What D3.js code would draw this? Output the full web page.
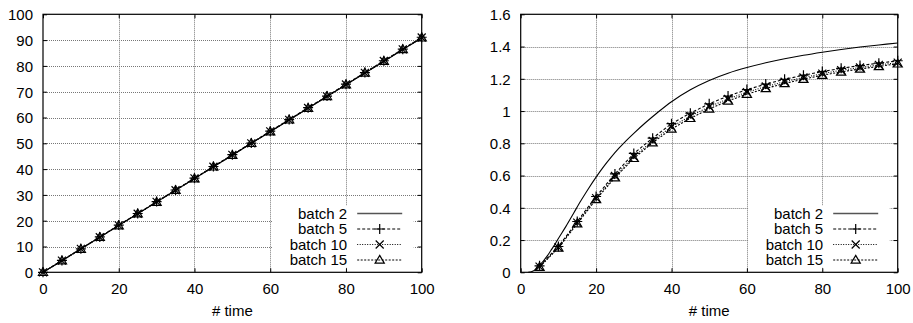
<!DOCTYPE html>
<html>
<head>
<meta charset="utf-8">
<script src="https://cdn.jsdelivr.net/npm/d3@7"></script>
<style>
  html, body { margin: 0; padding: 0; background: #fff; }
  svg { display: block; }
  text { font-family: "Liberation Sans", Arial, sans-serif; font-size: 15px; fill: #000; }
</style>
</head>
<body>
<svg id="chart" width="913" height="323"></svg>
<script>
// ---------- data ----------
const seriesNames = ["batch 2", "batch 5", "batch 10", "batch 15"];

// left panel (x = 0..100 step 5)
const leftX = [0,5,10,15,20,25,30,35,40,45,50,55,60,65,70,75,80,85,90,95,100];
const leftBatch2  = [0,4.5,9.1,13.6,18.2,22.7,27.2,31.8,36.3,40.9,45.4,50.0,54.5,59.0,63.6,68.1,72.7,77.2,81.7,86.3,90.8];
const leftBatch5  = [0,4.6,9.1,13.7,18.3,22.8,27.4,31.9,36.5,41.0,45.6,50.1,54.7,59.2,63.8,68.3,72.9,77.4,82.0,86.5,91.1];
const leftBatch10 = [0,4.5,9.1,13.6,18.2,22.7,27.3,31.8,36.4,40.9,45.5,50.0,54.6,59.1,63.7,68.2,72.8,77.3,81.9,86.4,91.0];
const leftBatch15 = [0,4.5,9.0,13.6,18.1,22.7,27.2,31.8,36.3,40.9,45.4,50.0,54.5,59.1,63.6,68.2,72.7,77.3,81.8,86.4,90.9];

// right panel
const rightBatch2X = [2,3,4,5,6,7,8,9,10,12,14,16,18,20,22,24,26,28,30,33,36,40,45,50,55,60,65,70,75,80,85,90,95,100];
const rightBatch2Y = [0,0.005,0.02,0.045,0.07,0.1,0.135,0.17,0.21,0.285,0.365,0.445,0.52,0.59,0.655,0.714,0.768,0.817,0.862,0.926,0.985,1.058,1.132,1.19,1.235,1.27,1.299,1.324,1.346,1.365,1.382,1.397,1.41,1.422];
const rightX = [5,10,15,20,25,30,35,40,45,50,55,60,65,70,75,80,85,90,95,100];
const rightBatch5  = [0.04,0.16,0.315,0.47,0.61,0.737,0.832,0.922,0.987,1.045,1.093,1.133,1.167,1.197,1.222,1.245,1.265,1.282,1.297,1.312];
const rightBatch10 = [0.035,0.155,0.308,0.46,0.597,0.718,0.815,0.903,0.968,1.027,1.075,1.117,1.152,1.182,1.208,1.232,1.253,1.27,1.286,1.3];
const rightBatch15 = [0.032,0.151,0.302,0.452,0.587,0.707,0.804,0.889,0.955,1.013,1.063,1.105,1.14,1.171,1.198,1.222,1.243,1.261,1.277,1.293];

// ticks
const xTicks = [0,20,40,60,80,100];
const xTickLabels = ["0","20","40","60","80","100"];
const leftYTicks = [0,10,20,30,40,50,60,70,80,90,100];
const leftYTickLabels = ["0","10","20","30","40","50","60","70","80","90","100"];
const rightYTicks = [0,0.2,0.4,0.6,0.8,1,1.2,1.4,1.6];
const rightYTickLabels = ["0","0.2","0.4","0.6","0.8","1","1.2","1.4","1.6"];
const xLabel = "# time";

// ---------- drawing ----------
const svg = d3.select("#chart");

const styles = [
  { dash: null,  marker: null },
  { dash: "3,2", marker: "plus" },
  { dash: "1,1.5", marker: "cross" },
  { dash: "2,1.5", marker: "triangle" }
];

function drawMarker(g, type, x, y) {
  if (type === "plus") {
    g.append("path").attr("d", `M${x-5},${y}H${x+5}M${x},${y-5}V${y+5}`)
      .attr("stroke", "#000").attr("stroke-width", 1.2).attr("fill", "none");
  } else if (type === "cross") {
    g.append("path").attr("d", `M${x-4},${y-4}L${x+4},${y+4}M${x-4},${y+4}L${x+4},${y-4}`)
      .attr("stroke", "#000").attr("stroke-width", 1.2).attr("fill", "none");
  } else if (type === "triangle") {
    g.append("path").attr("d", `M${x},${y-4.6}L${x+4.6},${y+3.2}L${x-4.6},${y+3.2}Z`)
      .attr("stroke", "#000").attr("stroke-width", 1.2).attr("fill", "none");
  }
}

function panel(opts) {
  const { x0, x1, y0, y1, yDomain, yTicks, yLabels, series } = opts;
  const xs = d3.scaleLinear().domain([0, 100]).range([x0, x1]);
  const ys = d3.scaleLinear().domain(yDomain).range([y1, y0]);
  const g = svg.append("g");

  // grid
  const grid = g.append("g").attr("stroke", "#777").attr("stroke-width", 1)
    .attr("stroke-dasharray", "1,1").attr("fill", "none");
  xTicks.slice(1, -1).forEach(t => {
    grid.append("line").attr("x1", Math.round(xs(t)) + 0.5).attr("x2", Math.round(xs(t)) + 0.5)
      .attr("y1", y0).attr("y2", y1);
  });
  yTicks.slice(1, -1).forEach(t => {
    grid.append("line").attr("y1", Math.round(ys(t)) + 0.5).attr("y2", Math.round(ys(t)) + 0.5)
      .attr("x1", x0).attr("x2", x1);
  });

  // axes with d3 axis generators (inward ticks, mirrored)
  const fmtX = d => xTickLabels[xTicks.indexOf(d)];
  const fmtY = d => yLabels[yTicks.indexOf(d)];
  const axB = g.append("g").attr("transform", `translate(0,${y1})`)
    .call(d3.axisBottom(xs).tickValues(xTicks).tickFormat(fmtX).tickSizeInner(-4).tickSizeOuter(0).tickPadding(10));
  const axT = g.append("g").attr("transform", `translate(0,${y0})`)
    .call(d3.axisTop(xs).tickValues(xTicks).tickFormat("").tickSizeInner(-4).tickSizeOuter(0));
  const axL = g.append("g").attr("transform", `translate(${x0},0)`)
    .call(d3.axisLeft(ys).tickValues(yTicks).tickFormat(fmtY).tickSizeInner(-4).tickSizeOuter(0).tickPadding(10));
  const axR = g.append("g").attr("transform", `translate(${x1},0)`)
    .call(d3.axisRight(ys).tickValues(yTicks).tickFormat("").tickSizeInner(-4).tickSizeOuter(0));
  [axB, axT, axL, axR].forEach(a => {
    a.select(".domain").remove();
    a.selectAll("line").attr("stroke", "#000");
    a.selectAll("text").attr("fill", "#000")
      .style("font-family", '"Liberation Sans", Arial, sans-serif').style("font-size", "15px");
  });
  axB.selectAll("text").attr("dy", null).attr("y", 21.5);
  axL.selectAll("text").attr("dy", "0.36em");

  // series
  const layer = g.append("g");
  series.forEach((s, i) => {
    const st = styles[i];
    const line = d3.line().x(d => xs(d[0])).y(d => ys(d[1]))
      .curve(s.smooth ? d3.curveCatmullRom.alpha(0.5) : d3.curveLinear);
    const pts = s.x.map((xv, k) => [xv, s.y[k]]);
    layer.append("path").datum(pts).attr("d", line)
      .attr("fill", "none").attr("stroke", "#000").attr("stroke-width", 1.1)
      .attr("stroke-dasharray", st.dash);
    if (st.marker) pts.forEach(p => drawMarker(layer, st.marker, xs(p[0]), ys(p[1])));
  });

  // border
  g.append("rect").attr("x", x0).attr("y", y0).attr("width", x1 - x0).attr("height", y1 - y0)
    .attr("fill", "none").attr("stroke", "#000").attr("stroke-width", 1.2);

  // legend (opaque key)
  const rowY = [213.5, 229, 244.5, 260];
  const textRight = x1 - 74.5;
  const lineX0 = x1 - 64.5, lineX1 = x1 - 19.5;
  const boxX0 = textRight - 75;
  const key = g.append("g");
  key.append("rect").attr("x", boxX0).attr("y", 205.5)
    .attr("width", (x1 - 8) - boxX0).attr("height", 62).attr("fill", "#fff");
  seriesNames.forEach((name, i) => {
    const st = styles[i];
    key.append("text").attr("x", textRight).attr("y", rowY[i]).attr("dy", "0.36em")
      .attr("text-anchor", "end").text(name);
    key.append("line").attr("x1", lineX0).attr("x2", lineX1).attr("y1", rowY[i]).attr("y2", rowY[i])
      .attr("stroke", i === 0 ? "#555" : "#000").attr("stroke-width", i === 0 ? 1.6 : 1)
      .attr("stroke-dasharray", st.dash);
    if (st.marker) drawMarker(key, st.marker, (lineX0 + lineX1) / 2, rowY[i]);
  });

  // x label
  g.append("text").attr("x", (x0 + x1) / 2).attr("y", 316).attr("text-anchor", "middle").text(xLabel);
}

panel({
  x0: 43, x1: 421.7, y0: 14.3, y1: 272.3,
  yDomain: [0, 100], yTicks: leftYTicks, yLabels: leftYTickLabels,
  series: [
    { x: leftX, y: leftBatch2 },
    { x: leftX, y: leftBatch5 },
    { x: leftX, y: leftBatch10 },
    { x: leftX, y: leftBatch15 }
  ]
});

panel({
  x0: 520.7, x1: 897.7, y0: 14.3, y1: 272.3,
  yDomain: [0, 1.6], yTicks: rightYTicks, yLabels: rightYTickLabels,
  series: [
    { x: rightBatch2X, y: rightBatch2Y, smooth: true },
    { x: rightX, y: rightBatch5 },
    { x: rightX, y: rightBatch10 },
    { x: rightX, y: rightBatch15 }
  ]
});
</script>
</body>
</html>
